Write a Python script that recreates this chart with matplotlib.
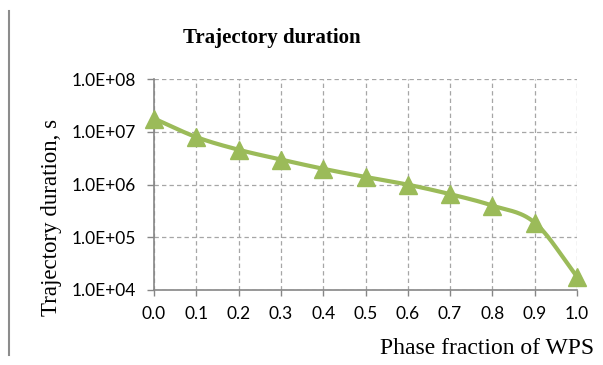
import numpy as np
import matplotlib
matplotlib.use("Agg")
import matplotlib.pyplot as plt
from matplotlib.ticker import FixedLocator, NullLocator
from matplotlib.lines import Line2D

# Data
phase_fraction = [0.0, 0.1, 0.2, 0.3, 0.4, 0.5, 0.6, 0.7, 0.8, 0.9, 1.0]
duration_s = [1.8e7, 8.0e6, 4.6e6, 3.0e6, 2.0e6, 1.4e6, 1.0e6, 6.6e5, 4.0e5, 1.9e5, 1.8e4]
x_ticks = [0.0, 0.1, 0.2, 0.3, 0.4, 0.5, 0.6, 0.7, 0.8, 0.9, 1.0]
y_ticks = [1e4, 1e5, 1e6, 1e7, 1e8]
y_tick_labels = ["1.0E+04", "1.0E+05", "1.0E+06", "1.0E+07", "1.0E+08"]

GREEN = "#9BBB59"
GRAY = "#868686"

def smooth(xs, ys, n=30):
    # Catmull-Rom spline in (x, log10 y) space, like Excel's smoothed line
    x = np.asarray(xs, float)
    y = np.log10(np.asarray(ys, float))
    px = np.concatenate([[2 * x[0] - x[1]], x, [2 * x[-1] - x[-2]]])
    py = np.concatenate([[2 * y[0] - y[1]], y, [2 * y[-1] - y[-2]]])
    ox, oy = [], []
    for i in range(1, len(px) - 2):
        t = np.linspace(0, 1, n, endpoint=False)
        for p, out in ((px, ox), (py, oy)):
            p0, p1, p2, p3 = p[i - 1], p[i], p[i + 1], p[i + 2]
            v = 0.5 * ((2 * p1) + (-p0 + p2) * t + (2 * p0 - 5 * p1 + 4 * p2 - p3) * t ** 2
                       + (-p0 + 3 * p1 - 3 * p2 + p3) * t ** 3)
            out.extend(v)
    ox.append(x[-1]); oy.append(y[-1])
    return np.array(ox), 10 ** np.array(oy)

fig = plt.figure(figsize=(6.03, 3.65), dpi=100)
ax = fig.add_axes([154 / 603, 1 - 290 / 365, (577 - 154) / 603, (290 - 79.3) / 365])

sx, sy = smooth(phase_fraction, duration_s)
ax.plot(sx, sy, color=GREEN, lw=3.0, solid_capstyle="round", zorder=3, clip_on=False)
ax.plot(phase_fraction, duration_s, linestyle="none", marker="^", markersize=13,
        color=GREEN, zorder=4, clip_on=False)

ax.set_yscale("log")
ax.set_xlim(0.0, 1.0)
ax.set_ylim(1e4, 1e8)
ax.yaxis.set_major_locator(FixedLocator(y_ticks))
ax.yaxis.set_minor_locator(NullLocator())
ax.set_yticklabels(y_tick_labels)
ax.set_xticks(x_ticks)
ax.set_xticklabels([f"{v:.1f}" for v in x_ticks])

ax.grid(True, which="major", color="#A6A6A6", linestyle=(0, (3.5, 2.5)), linewidth=0.9)
ax.set_axisbelow(True)
for s in ("top", "right"):
    ax.spines[s].set_visible(False)
for s in ("left", "bottom"):
    ax.spines[s].set_color(GRAY)
    ax.spines[s].set_linewidth(1.2)
ax.tick_params(axis="y", which="major", direction="out", length=5, width=1.0,
               color=GRAY, labelsize=12.5, pad=8)
ax.tick_params(axis="x", which="major", direction="out", length=4.5, width=1.0,
               color=GRAY, labelsize=12.5, pad=7)
for lab in ax.get_xticklabels() + ax.get_yticklabels():
    lab.set_family(["Lato", "DejaVu Sans"])

fig.text(272 / 603, 1 - 38 / 365, "Trajectory duration", ha="center", va="center",
         family="Liberation Serif", fontweight="bold", fontsize=15)
fig.text(52 / 603, 1 - 217 / 365, "Trajectory duration, s", ha="center", va="center",
         rotation=90, family="Liberation Serif", fontsize=16.5)
fig.text(594 / 603, 1 - 348 / 365, "Phase fraction of WPS", ha="right", va="center",
         family="Liberation Serif", fontsize=17)

fig.add_artist(Line2D([9 / 603, 9 / 603], [1 - 11 / 365, 1 - 355 / 365],
                      transform=fig.transFigure, color="#8C8C8C", lw=1.5))

fig.savefig("out.png", dpi=100)
